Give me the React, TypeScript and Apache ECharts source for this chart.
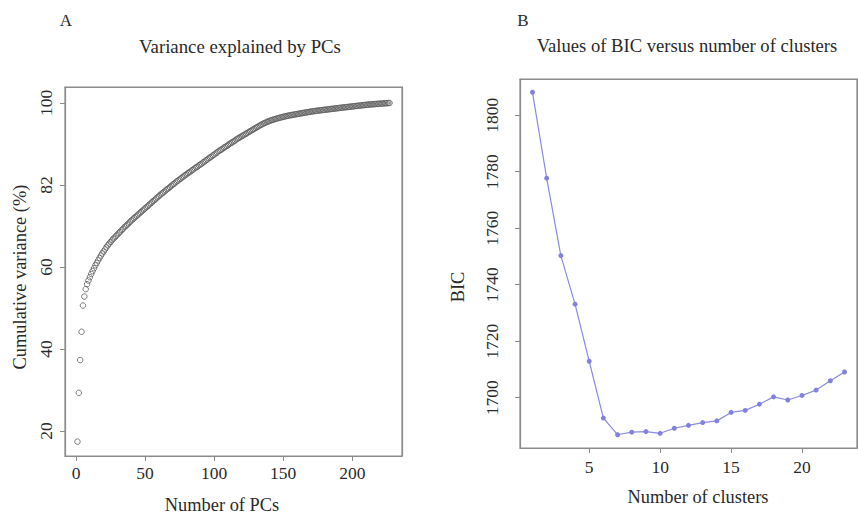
import React, { useEffect, useRef } from "react";
import * as echarts from "echarts";

// Panel A: cumulative variance (%) for PCs 1..227
const pcVariance: number[] = [
  17.4, 29.3, 37.3, 44.2, 50.6, 52.8, 54.6, 55.8, 56.7, 57.5,
  58.3, 59.0, 59.7, 60.4, 61.0, 61.6, 62.2, 62.8, 63.3, 63.8,
  64.3, 64.8, 65.3, 65.7, 66.1, 66.5, 66.9, 67.2, 67.6, 67.9,
  68.3, 68.6, 69.0, 69.3, 69.7, 70.0, 70.3, 70.6, 71.0, 71.3,
  71.6, 71.9, 72.2, 72.5, 72.8, 73.1, 73.4, 73.7, 74.0, 74.3,
  74.6, 74.9, 75.2, 75.5, 75.8, 76.1, 76.4, 76.7, 77.0, 77.3,
  77.6, 77.9, 78.1, 78.4, 78.7, 79.0, 79.2, 79.5, 79.8, 80.1,
  80.3, 80.6, 80.9, 81.1, 81.4, 81.6, 81.9, 82.1, 82.4, 82.6,
  82.9, 83.1, 83.3, 83.6, 83.8, 84.1, 84.3, 84.5, 84.8, 85.0,
  85.2, 85.5, 85.7, 86.0, 86.2, 86.5, 86.7, 86.9, 87.2, 87.4,
  87.7, 87.9, 88.2, 88.4, 88.6, 88.8, 89.1, 89.3, 89.5, 89.7,
  90.0, 90.2, 90.4, 90.6, 90.8, 91.1, 91.3, 91.5, 91.7, 91.9,
  92.1, 92.3, 92.5, 92.7, 92.9, 93.1, 93.3, 93.5, 93.7, 93.9,
  94.1, 94.3, 94.5, 94.68, 94.86, 95.03, 95.19, 95.34, 95.48, 95.61,
  95.73, 95.85, 95.96, 96.07, 96.17, 96.27, 96.36, 96.45, 96.54, 96.62,
  96.7, 96.78, 96.86, 96.93, 97.0, 97.06, 97.12, 97.18, 97.24, 97.3,
  97.36, 97.42, 97.48, 97.54, 97.6, 97.65, 97.71, 97.77, 97.83, 97.89,
  97.94, 98.0, 98.04, 98.09, 98.13, 98.17, 98.21, 98.26, 98.3, 98.34,
  98.38, 98.42, 98.47, 98.51, 98.55, 98.59, 98.63, 98.67, 98.71, 98.76,
  98.8, 98.84, 98.88, 98.92, 98.96, 99.0, 99.04, 99.08, 99.12, 99.16,
  99.2, 99.24, 99.28, 99.32, 99.35, 99.39, 99.43, 99.47, 99.51, 99.55,
  99.58, 99.61, 99.64, 99.67, 99.7, 99.72, 99.75, 99.78, 99.8, 99.83,
  99.86, 99.88, 99.91, 99.93, 99.96, 99.98, 100.0,
];

// Panel B: BIC for 1..23 clusters
const clusterCounts: number[] = [
  1, 2, 3, 4, 5, 6, 7, 8, 9, 10, 11, 12, 13, 14, 15, 16, 17, 18, 19, 20, 21, 22, 23,
];
const bicValues: number[] = [
  1808.1, 1777.7, 1750.3, 1733.1, 1712.9, 1692.8, 1686.9, 1687.8, 1688.0, 1687.4,
  1689.2, 1690.2, 1691.2, 1691.8, 1694.8, 1695.5, 1697.7, 1700.3, 1699.2, 1700.8,
  1702.7, 1706.0, 1709.1,
];

// Tick values and labels
const xTicksA: number[] = [0, 50, 100, 150, 200];
const yTicksA: number[] = [20, 40, 60, 80, 100];
const yTickLabelsA: string[] = ["20", "40", "60", "82", "100"];
const xTicksB: number[] = [5, 10, 15, 20];
const yTicksB: number[] = [1700, 1720, 1740, 1760, 1780, 1800];

const FONT = "'Liberation Serif', 'Times New Roman', serif";
const TEXT = "#2a2a2a";
const AXIS = "#8c8c8c";
const TICK_FS = 17.5;
const TITLE_FS = 18.8;
const LAB_FS = 18.4;

export default function App() {
  const ref = useRef<HTMLDivElement>(null);

  useEffect(() => {
    if (!ref.current) return;
    const chart = echarts.init(ref.current, undefined, { renderer: "svg" });

    const tickStyle = { show: true, length: 5, inside: false, lineStyle: { color: AXIS, width: 1 } };
    const lineStyle = { show: true, onZero: false, lineStyle: { color: AXIS, width: 1.2 } };

    const frameAxis = (grid: number, min: number, max: number, position: string) => ({
      type: "value", gridIndex: grid, min, max, position,
      axisLine: lineStyle, axisTick: { show: false }, axisLabel: { show: false }, splitLine: { show: false },
    });

    const option: any = {
      animation: false,
      backgroundColor: "#fff",
      textStyle: { fontFamily: FONT },
      grid: [
        { left: 65, top: 87, width: 337, height: 369, containLabel: false, show: true, borderColor: AXIS, borderWidth: 1.2, backgroundColor: "transparent" },
        { left: 520, top: 79, width: 337, height: 369, containLabel: false, show: true, borderColor: AXIS, borderWidth: 1.2, backgroundColor: "transparent" },
      ],
      xAxis: [
        {
          type: "value", gridIndex: 0, min: -8, max: 236, position: "bottom",
          axisLine: lineStyle, splitLine: { show: false },
          axisTick: { ...tickStyle, customValues: xTicksA },
          axisLabel: { customValues: xTicksA, fontFamily: FONT, fontSize: TICK_FS, color: TEXT, margin: 8 },
        },
        {
          type: "value", gridIndex: 1, min: 0.12, max: 23.88, position: "bottom",
          axisLine: lineStyle, splitLine: { show: false },
          axisTick: { ...tickStyle, customValues: xTicksB },
          axisLabel: { customValues: xTicksB, fontFamily: FONT, fontSize: TICK_FS, color: TEXT, margin: 10 },
        },
        frameAxis(0, -8, 236, "top"),
        frameAxis(1, 0.12, 23.88, "top"),
      ],
      yAxis: [
        {
          type: "value", gridIndex: 0, min: 13.9, max: 103.9, position: "left",
          axisLine: lineStyle, splitLine: { show: false },
          axisTick: { ...tickStyle, customValues: yTicksA },
          axisLabel: {
            customValues: yTicksA, rotate: 90, fontFamily: FONT, fontSize: TICK_FS, color: TEXT, margin: 10,
            formatter: (v: number) => {
              const i = yTicksA.indexOf(v);
              return i >= 0 ? yTickLabelsA[i] : String(v);
            },
          },
        },
        {
          type: "value", gridIndex: 1, min: 1682.2, max: 1812.8, position: "left",
          axisLine: lineStyle, splitLine: { show: false },
          axisTick: { ...tickStyle, customValues: yTicksB },
          axisLabel: {
            customValues: yTicksB, rotate: 90, fontFamily: FONT, fontSize: TICK_FS, color: TEXT, margin: 19,
            formatter: (v: number) => String(v),
          },
        },
        frameAxis(0, 13.9, 103.9, "right"),
        frameAxis(1, 1682.2, 1812.8, "right"),
      ],
      series: [
        {
          type: "scatter", xAxisIndex: 0, yAxisIndex: 0,
          data: pcVariance.map((v, i) => [i + 1, v]),
          symbol: "circle", symbolSize: 5.5,
          itemStyle: { color: "rgba(0,0,0,0)", borderColor: "#5a5a5a", borderWidth: 1 },
        },
        {
          type: "line", xAxisIndex: 1, yAxisIndex: 1,
          data: clusterCounts.map((c, i) => [c, bicValues[i]]),
          symbol: "circle", symbolSize: 5, showSymbol: true,
          lineStyle: { color: "#8a8ae2", width: 1.2 },
          itemStyle: { color: "#8282de", borderWidth: 0 },
        },
      ],
      graphic: [
        { type: "text", x: 66, y: 20, style: { text: "A", font: `17px ${FONT}`, fill: TEXT, align: "center", verticalAlign: "middle" } },
        { type: "text", x: 523, y: 20, style: { text: "B", font: `17px ${FONT}`, fill: TEXT, align: "center", verticalAlign: "middle" } },
        { type: "text", x: 240, y: 46, style: { text: "Variance explained by PCs", font: `${TITLE_FS}px ${FONT}`, fill: TEXT, align: "center", verticalAlign: "middle" } },
        { type: "text", x: 687, y: 45, style: { text: "Values of BIC versus number of clusters", font: `${TITLE_FS - 0.2}px ${FONT}`, fill: TEXT, align: "center", verticalAlign: "middle" } },
        { type: "text", x: 222, y: 505, style: { text: "Number of PCs", font: `${LAB_FS}px ${FONT}`, fill: TEXT, align: "center", verticalAlign: "middle" } },
        { type: "text", x: 698, y: 497, style: { text: "Number of clusters", font: `${LAB_FS}px ${FONT}`, fill: TEXT, align: "center", verticalAlign: "middle" } },
        { type: "text", x: 20, y: 277, rotation: Math.PI / 2, style: { text: "Cumulative variance (%)", font: `${LAB_FS}px ${FONT}`, fill: TEXT, align: "center", verticalAlign: "middle" } },
        { type: "text", x: 458, y: 287, rotation: Math.PI / 2, style: { text: "BIC", font: `${LAB_FS}px ${FONT}`, fill: TEXT, align: "center", verticalAlign: "middle" } },
      ],
    };

    chart.setOption(option);
    return () => chart.dispose();
  }, []);

  return (
    <div
      ref={ref}
      style={{ position: "absolute", left: 0, top: 0, width: 858, height: 516, background: "#fff" }}
    />
  );
}
